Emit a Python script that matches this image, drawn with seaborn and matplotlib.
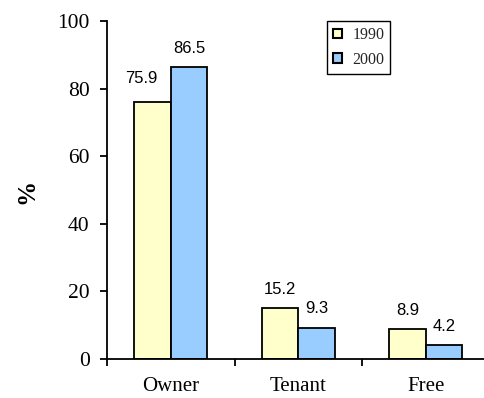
import matplotlib
matplotlib.use("Agg")
import matplotlib.pyplot as plt
import seaborn as sns
import pandas as pd

categories = ["Owner", "Tenant", "Free"]
years = ["1990", "2000"]
values_1990 = [75.9, 15.2, 8.9]
values_2000 = [86.5, 9.3, 4.2]
y_ticks = [0, 20, 40, 60, 80, 100]
colors = ["#FFFFCC", "#99CCFF"]

df = pd.DataFrame({
    "category": categories * 2,
    "year": [years[0]] * 3 + [years[1]] * 3,
    "value": values_1990 + values_2000,
})

sns.set_theme(style="white")
plt.rcParams["font.family"] = ["Liberation Serif", "DejaVu Serif"]

fig = plt.figure(figsize=(4.84, 3.98), dpi=100)
ax = fig.add_axes([107 / 484, 1 - 359 / 398, 382.5 / 484, 338 / 398])

sns.barplot(data=df, x="category", y="value", hue="year", order=categories,
            hue_order=years, palette=colors, edgecolor="black", linewidth=1.3,
            width=0.57, gap=0, saturation=1, ax=ax)

ax.set_xlim(-0.5, 2.5)
ax.set_ylim(0, 100)
ax.set_yticks(y_ticks)
ax.set_xlabel("")
ax.set_ylabel("")

for side in ["top", "right"]:
    ax.spines[side].set_visible(False)
for side in ["left", "bottom"]:
    ax.spines[side].set_color("black")
    ax.spines[side].set_linewidth(1.3)

ax.tick_params(axis="y", direction="out", length=5, width=1.3, color="black",
               labelsize=15.5, pad=7.5, left=True)
ax.tick_params(axis="x", which="major", length=0, labelsize=15, pad=13)
ax.set_xticks([-0.5, 0.5, 1.5, 2.5], minor=True)
ax.tick_params(axis="x", which="minor", direction="out", length=5, width=1.3,
               color="black", bottom=True)
for lbl in ax.get_yticklabels() + ax.get_xticklabels():
    lbl.set_color("black")

for container in ax.containers:
    anns = ax.bar_label(container, fmt="%.1f", padding=8, fontsize=12,
                        family="Liberation Sans", color="black")
    if container is ax.containers[0]:
        # nudge the tallest 1990 label clear of its neighbour
        x0, y0 = anns[0].xyann
        anns[0].xyann = (x0 - 8, y0 + 4)

fig.text(27 / 484, 1 - 191 / 398, "%", rotation=90, fontsize=18,
         fontweight="bold", ha="center", va="center", color="black")

leg = ax.legend(loc="upper left", bbox_to_anchor=(327 / 484, 1 - 21 / 398),
                bbox_transform=fig.transFigure, borderaxespad=0, fontsize=11.5,
                handlelength=0.55, handleheight=0.55, handletextpad=0.65,
                labelspacing=0.55, borderpad=0.38, fancybox=False,
                edgecolor="black", framealpha=1, title=None)
leg.get_frame().set_linewidth(1.0)
for h in leg.legend_handles:
    h.set_edgecolor("black")
    h.set_linewidth(1.5)

fig.savefig("out.png", dpi=100)
